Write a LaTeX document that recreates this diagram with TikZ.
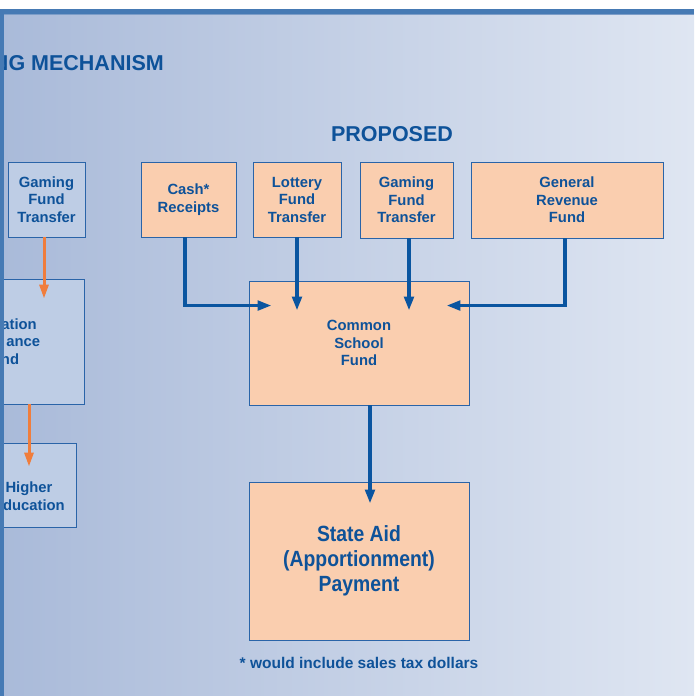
\documentclass[tikz,border=0pt]{standalone}
\usepackage{fontspec}
\setmainfont{Liberation Sans}
\newfontfamily\narrowfont{Liberation Sans}[FakeStretch=0.88]
\usetikzlibrary{arrows.meta,positioning}

\definecolor{bgleft}{HTML}{A9BAD9}
\definecolor{bgright}{HTML}{DFE6F2}
\definecolor{barblue}{HTML}{467AB4}
\definecolor{peach}{HTML}{FACEAF}
\definecolor{oldfill}{HTML}{BECDE5}
\definecolor{boxline}{HTML}{2A64A8}
\definecolor{txtblue}{HTML}{0E5299}
\definecolor{arrowblue}{HTML}{0A55A0}
\definecolor{arroworange}{HTML}{F07D3C}

\begin{document}
\begin{tikzpicture}[x=1pt, y=-1pt,
  main/.style = {draw=boxline, line width=0.9pt, fill=peach, text=txtblue, align=center, inner sep=0pt, font=\bfseries\fontsize{14.8}{17.5}\selectfont},
  old/.style = {main, fill=oldfill},
  flow/.style = {draw=arrowblue, line width=3.5pt, -{Triangle[length=14pt, width=9.5pt]}},
  oldflow/.style = {draw=arroworange, line width=3pt, -{Triangle[length=14pt, width=9pt]}},
  title/.style = {text=txtblue, inner sep=0pt, font=\bfseries\fontsize{21.5}{25}\selectfont}]
\clip (0,0) rectangle (694,696);
\fill[white] (0,0) rectangle (694,9);
\shade[left color=bgleft, right color=bgright] (0,9) rectangle (694,696);

\node[title, anchor=base east] (t1) at (164,70) {NG MECHANISM};
\node[title, anchor=base] (t2) at (392,141) {PROPOSED};

% proposed
\node[main, minimum width=95, minimum height=75] (1) at (188.5,199.5) {Cash*\\Receipts};
\node[main, minimum width=88, minimum height=75] (2) at (297,199.5) {Lottery\\Fund\\Transfer};
\node[main, minimum width=93, minimum height=76] (3) at (406.5,200) {Gaming\\Fund\\Transfer};
\node[main, minimum width=192, minimum height=76] (4) at (567,200) {General\\Revenue\\Fund};
\node[main, minimum width=220, minimum height=124] (5) at (359,343) {Common\\School\\Fund};
\node[main, minimum width=220, minimum height=158, font=\narrowfont\bfseries\fontsize{22}{25}\selectfont] (6) at (359,561) {State Aid\\(Apportionment)\\Payment};
\node[text=txtblue, inner sep=0pt, font=\bfseries\fontsize{15.5}{18}\selectfont] (7) [below=17pt of 6] {* would include sales tax dollars};

% current
\node[old, minimum width=77, minimum height=75] (8) at (46.5,199.5) {Gaming\\Fund\\Transfer};
\node[old, minimum width=166, minimum height=125] (9) at (1,341.5) {\phantom{Educ}ation\\\phantom{Assist}ance\\\phantom{Fu}nd};
\node[old, minimum width=94, minimum height=84,
  label={[text=txtblue, align=center, yshift=-11pt, font=\bfseries\fontsize{14.8}{17.5}\selectfont]center:Higher\\\phantom{E}ducation}] (10) at (29,485) {};

\draw[flow] ([xshift=-3.5pt]1.south) |- ([shift={(23,25)}]5.north west);
\draw[flow] (2.south) -- (2.south |- 5.north) -- ++(0,30);
\draw[flow] ([xshift=2.5pt]3.south) -- ([xshift=2.5pt]3.south |- 5.north) -- ++(0,30);
\draw[flow] ([xshift=-2pt]4.south) |- ([shift={(-23,25)}]5.north east);
\draw[flow] ([xshift=11pt]5.south) -- ([xshift=11pt]6.north) -- ++(0,22);

\draw[oldflow] ([xshift=-2.5pt]8.south) -- ([xshift=-2.5pt]8.south |- 9.north) -- ++(0,20);
\draw[oldflow] (10.north |- 9.south) -- (10.north) -- ++(0,24);

\fill[barblue] (0,9) rectangle (694,13.5);
\fill[barblue!45!bgleft] (4,13.5) rectangle (694,14.5);
\fill[barblue] (0,9) rectangle (4,696);
\end{tikzpicture}
\end{document}
